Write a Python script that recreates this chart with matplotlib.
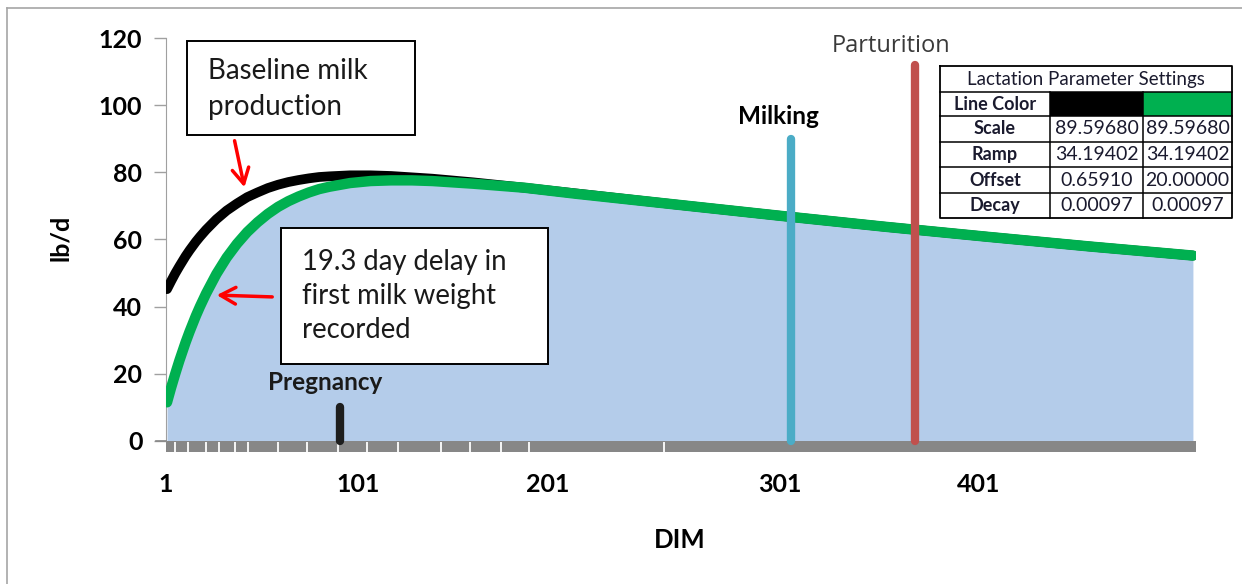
import matplotlib
matplotlib.use("Agg")
import matplotlib.pyplot as plt
from matplotlib.patches import Rectangle, FancyArrowPatch
from matplotlib.lines import Line2D

# ---------------- data ----------------
dim = [1, 2, 3, 5, 7, 10, 12, 15, 17, 20, 25, 30, 35, 40, 45, 50, 55, 60, 65,
       70, 75, 80, 90, 100, 110, 120, 130, 150, 175, 200, 250, 300, 350, 400,
       450, 500]
baseline_lbd = [45.2, 46.4, 47.6, 49.9, 52.0, 55.0, 56.8, 59.3, 60.8, 62.9,
                66.0, 68.6, 70.7, 72.6, 74.0, 75.3, 76.3, 77.1, 77.7, 78.2,
                78.6, 78.8, 79.1, 79.1, 78.9, 78.5, 78.1, 77.0, 75.4, 73.7,
                70.3, 67.0, 63.8, 60.8, 57.9, 55.2]
delayed_lbd = [11.5, 13.7, 15.9, 20.0, 23.9, 29.3, 32.6, 37.2, 40.0, 43.9,
               49.7, 54.6, 58.7, 62.2, 65.1, 67.6, 69.7, 71.4, 72.8, 74.0,
               75.0, 75.7, 76.8, 77.4, 77.6, 77.6, 77.4, 76.6, 75.4, 73.6,
               70.3, 67.0, 63.8, 60.8, 57.9, 55.2]

test_days = [0, 4.9, 11.2, 20, 26.4, 34.2, 40.5, 55.1, 69.3, 84.4, 98.1,
             113.2, 134.2, 148.3, 163.4, 177.1, 242.9]

events = ["Pregnancy", "Milking", "Parturition"]
event_day = [85, 304.5, 365]
event_height = [10, 90, 112]

x_tick_labels = ["1", "101", "201", "301", "401"]
y_ticks = [0, 20, 40, 60, 80, 100, 120]

table_title = "Lactation Parameter Settings"
param_names = ["Scale", "Ramp", "Offset", "Decay"]
params_black = ["89.59680", "34.19402", "0.65910", "0.00097"]
params_green = ["89.59680", "34.19402", "20.00000", "0.00097"]

# ---------------- layout / style ----------------
W, H = 1242, 584
x_tick_pos = [0.5, 93.9, 186.3, 299.0, 395.8]
FONT = "Lato"
GREEN = "#00B050"
FILL = "#B4CCEA"
AXGRAY = "#878787"

fig = plt.figure(figsize=(W / 100, H / 100), dpi=100)
fig.patch.set_facecolor("white")


def fx(px):
    return px / W


def fy(py):
    return 1 - py / H


# outer frame (top and left lines)
fig.add_artist(Line2D([fx(7), fx(1242)], [fy(8), fy(8)], color="#A6A6A6", lw=1.2))
fig.add_artist(Line2D([fx(7), fx(7)], [fy(8), fy(584)], color="#A6A6A6", lw=1.2))

ax = fig.add_axes([fx(166), fy(452), fx(1196) - fx(166), fy(38) - fy(452)])
ax.set_xlim(0.5, 501.5)
ax.set_ylim(-3.3, 120)
ax.set_facecolor("none")

# fill under delayed curve
ax.fill_between(dim, 0, delayed_lbd, color=FILL, lw=0, zorder=1)

# x-axis gray band with white test-day ticks
ax.axhspan(-3.3, 0, color=AXGRAY, lw=0, zorder=2)
for d in test_days:
    ax.plot([d, d], [-3.3, -0.4], color="white", lw=1.3, zorder=3, solid_capstyle="butt")
ax.plot([-4.5, 0.5], [0, 0], color=AXGRAY, lw=1.2, clip_on=False, zorder=3)

# curves
ax.plot(dim, baseline_lbd, color="black", lw=7, solid_capstyle="round",
        solid_joinstyle="round", zorder=4)
ax.plot(dim, delayed_lbd, color=GREEN, lw=7.5, solid_capstyle="round",
        solid_joinstyle="round", zorder=5)

# event markers
ev_colors = ["#1E1E1E", "#4BACC6", "#C0504D"]
for d, h, c in zip(event_day, event_height, ev_colors):
    ax.plot([d, d], [0, h], color=c, lw=6, solid_capstyle="round", zorder=6)

ax.text(event_day[0] - 7, 17.3, events[0], ha="center", va="center",
        fontsize=17.5, fontweight="bold", family=FONT, color="#1a1a1a", zorder=7)
ax.text(event_day[1] - 6, 96.5, events[1], ha="center", va="center",
        fontsize=17.5, fontweight="bold", family=FONT, color="black", zorder=7)
ax.text(event_day[2] - 12, 117.5, events[2], ha="center", va="center",
        fontsize=17, family="Open Sans", color="#3a3a3a", zorder=7, clip_on=False)

# axes styling
for s in ["top", "right", "bottom"]:
    ax.spines[s].set_visible(False)
ax.spines["left"].set_color("#A0A0A0")
ax.spines["left"].set_bounds(0, 120)
ax.set_yticks(y_ticks)
ax.set_yticklabels([str(v) for v in y_ticks], fontsize=18, fontweight="bold", family=FONT)
ax.tick_params(axis="y", length=9, color="#A0A0A0", width=1, pad=8)
ax.set_xticks(x_tick_pos)
ax.set_xticklabels(x_tick_labels, fontsize=18, fontweight="bold", family=FONT)
ax.tick_params(axis="x", length=0, pad=15)

fig.text(fx(60), fy(238), "lb/d", rotation=90, ha="center", va="center",
         fontsize=18, fontweight="bold", family=FONT)
fig.text(fx(680), fy(540), "DIM", ha="center", va="center",
         fontsize=18.5, fontweight="bold", family=FONT)

# annotation boxes
fig.add_artist(Rectangle((fx(187), fy(135)), fx(415) - fx(187), fy(41) - fy(135),
                         facecolor="white", edgecolor="black", lw=1.4, zorder=8))
fig.text(fx(208), fy(89), "Baseline milk\nproduction", fontsize=20, family=FONT,
         color="#1a1a1a", ha="left", va="center", linespacing=1.48, zorder=9)

fig.add_artist(Rectangle((fx(281), fy(364)), fx(548) - fx(281), fy(228) - fy(364),
                         facecolor="white", edgecolor="black", lw=1.4, zorder=8))
fig.text(fx(302), fy(296), "19.3 day delay in\nfirst milk weight\nrecorded", fontsize=19.8,
         family=FONT, color="#1a1a1a", ha="left", va="center", linespacing=1.37, zorder=9)

# red arrows
fig.add_artist(FancyArrowPatch(
    (fx(234), fy(138)), (fx(245), fy(190)), transform=fig.transFigure,
    arrowstyle="->,head_length=11,head_width=6", color="#FF0000", lw=2.5, zorder=9))
fig.add_artist(FancyArrowPatch(
    (fx(275), fy(297)), (fx(214), fy(295)), transform=fig.transFigure,
    arrowstyle="->,head_length=11,head_width=6", color="#FF0000", lw=2.5, zorder=9))

# parameter table
tx0, ty0, tx1, ty1 = 940, 66, 1232, 218
tax = fig.add_axes([fx(tx0), fy(ty1), fx(tx1) - fx(tx0), fy(ty0) - fy(ty1)])
tax.set_xlim(tx0, tx1)
tax.set_ylim(ty1, ty0)
tax.axis("off")
col_x = [940, 1050, 1143, 1232]
row_y = [66, 92, 116, 142, 167, 193, 218]
TC = "#1a1a2e"
tax.add_patch(Rectangle((940, 66), 292, 152, facecolor="white", edgecolor="none", zorder=0))
tax.add_patch(Rectangle((1050, 92), 93, 24, facecolor="black", edgecolor="none", zorder=1))
tax.add_patch(Rectangle((1143, 92), 89, 24, facecolor=GREEN, edgecolor="none", zorder=1))
tax.plot([940, 1232, 1232, 940, 940], [66, 66, 218, 218, 66], color="black", lw=1.3,
         zorder=3, clip_on=False)
for yy in row_y[1:-1]:
    tax.plot([940, 1232], [yy, yy], color="black", lw=1.1, zorder=3, clip_on=False)
for xx in col_x[1:-1]:
    tax.plot([xx, xx], [92, 218], color="black", lw=1.1, zorder=3, clip_on=False)
tax.text(1086, 79, table_title, ha="center", va="center", fontsize=13.5, family=FONT,
         color=TC, zorder=4)
tax.text(995, 104, "Line Color", ha="center", va="center", fontsize=13, family=FONT,
         fontweight="bold", color=TC, zorder=4)
for i, name in enumerate(param_names):
    yc = (row_y[i + 2] + row_y[i + 3]) / 2
    tax.text(995, yc, name, ha="center", va="center", fontsize=13, family=FONT,
             fontweight="bold", color=TC, zorder=4)
    tax.text(1096.5, yc, params_black[i], ha="center", va="center", fontsize=14,
             family=FONT, color=TC, zorder=4)
    tax.text(1187.5, yc, params_green[i], ha="center", va="center", fontsize=14,
             family=FONT, color=TC, zorder=4)

fig.savefig("out.png", dpi=100)
